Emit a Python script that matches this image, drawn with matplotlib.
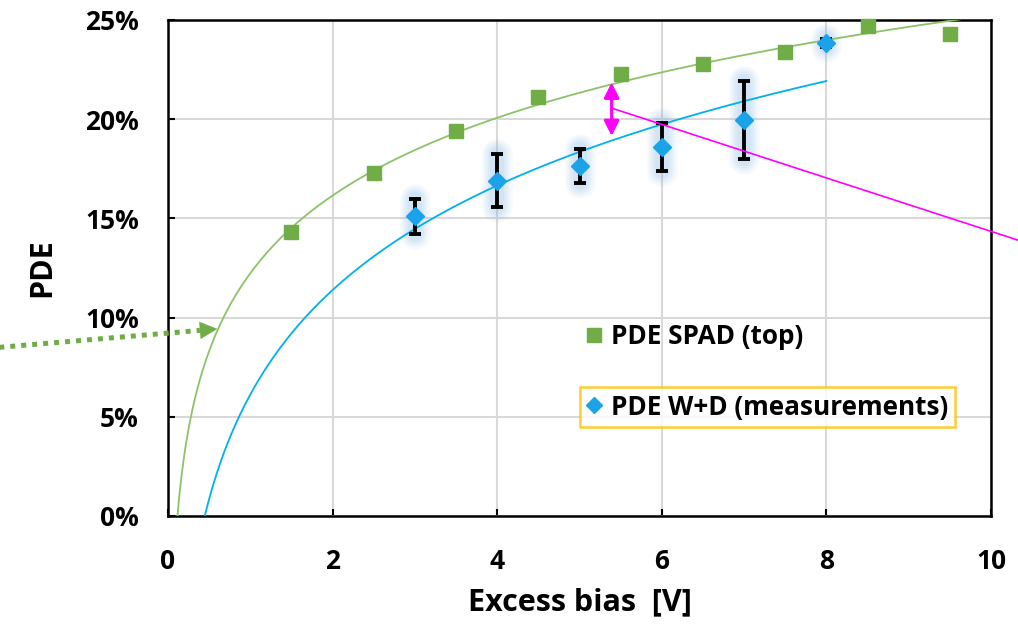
import numpy as np
import matplotlib
matplotlib.use("Agg")
import matplotlib.pyplot as plt
from matplotlib.lines import Line2D
from matplotlib.ticker import FuncFormatter

plt.rcParams['font.family'] = ['Open Sans', 'DejaVu Sans']
plt.rcParams['font.weight'] = 'bold'

# ---- data ----
spad_x = [1.5, 2.5, 3.5, 4.5, 5.5, 6.5, 7.5, 8.5, 9.5]
spad_y = [14.3, 17.3, 19.4, 21.1, 22.3, 22.8, 23.4, 24.7, 24.3]
wd_x = [3, 4, 5, 6, 7, 8]
wd_y = [15.1, 16.9, 17.65, 18.6, 19.95, 23.85]
wd_err = [0.9, 1.35, 0.85, 1.2, 1.97, 0.2]
x_ticks = [0, 2, 4, 6, 8, 10]
y_ticks = [0, 5, 10, 15, 20, 25]

GREEN = '#70AD47'
BLUE = '#1AA3E8'
BLUE_LINE = '#00B0F0'
MAGENTA = '#FF00FF'
GLOW = '#8FBCE6'

W, H = 1018, 627
fig = plt.figure(figsize=(W / 100, H / 100), dpi=100)
ax = fig.add_axes([168 / W, (H - 516) / H, 823 / W, 496 / H])

# logarithmic trendlines fitted to each series
a_g, b_g = np.polyfit(np.log(spad_x), spad_y, 1)
a_b, b_b = np.polyfit(np.log(wd_x), wd_y, 1)
x0_g = np.exp(-b_g / a_g)
x0_b = np.exp(-b_b / a_b)
xg = np.linspace(x0_g, 10, 400)
xb = np.linspace(x0_b, 8, 400)
ax.plot(xg, a_g * np.log(xg) + b_g, color='#8CC36A', lw=1.3, zorder=3)
ax.plot(xb, a_b * np.log(xb) + b_b, color=BLUE_LINE, lw=1.3, zorder=3)

# soft glow behind the measurements
for xi, yi, ei in zip(wd_x, wd_y, wd_err):
    for lw, al in ((22, 0.07), (19, 0.08), (16, 0.09), (13, 0.10), (10, 0.11)):
        ax.plot([xi, xi], [yi - ei, yi + ei], color=GLOW, lw=lw, alpha=al,
                solid_capstyle='round', zorder=2)

ax.errorbar(wd_x, wd_y, yerr=wd_err, fmt='none', ecolor='black', elinewidth=2.8,
            capsize=4.5, capthick=2.8, zorder=4)
ax.plot(wd_x, wd_y, linestyle='none', marker='D', markersize=9, color=BLUE,
        markeredgecolor=BLUE, zorder=5)

ax.plot(spad_x, spad_y, linestyle='none', marker='s', markersize=10.5, color=GREEN,
        zorder=6, clip_on=False)

# green dotted arrow coming from outside the axes
arr_start = np.array([-2.05, 8.5])
arr_tip = np.array([0.6, 9.43])
arr_base = arr_tip - 0.08 * (arr_tip - arr_start)
ax.plot([arr_start[0], arr_base[0]], [arr_start[1], arr_base[1]], color=GREEN, lw=3.6,
        linestyle=(0, (1, 1.2)), solid_capstyle='butt', dash_capstyle='butt',
        clip_on=False, zorder=7)
ax.annotate('', xy=tuple(arr_tip), xytext=tuple(arr_base),
            arrowprops=dict(arrowstyle='-|>,head_length=1.25,head_width=0.62', color=GREEN,
                            lw=0.1, shrinkA=0, shrinkB=0),
            annotation_clip=False, zorder=7)

# magenta markers
ax.annotate('', xy=(5.39, 21.85), xytext=(5.39, 19.15),
            arrowprops=dict(arrowstyle='<|-|>,head_length=0.9,head_width=0.45', color=MAGENTA,
                            lw=2.2, shrinkA=0, shrinkB=0), zorder=7)
ax.plot([5.39, 10.33], [20.56, 13.9], color=MAGENTA, lw=1.2, clip_on=False, zorder=7)

# axes styling
ax.set_xlim(0, 10)
ax.set_ylim(0, 25)
ax.set_xticks(x_ticks)
ax.set_yticks(y_ticks)
ax.yaxis.set_major_formatter(FuncFormatter(lambda v, p: f'{v:.0f}%'))
ax.grid(True, color='#D9D9D9', lw=1.5, zorder=0)
ax.set_axisbelow(True)
for s in ax.spines.values():
    s.set_color('black')
    s.set_linewidth(1.8)
ax.tick_params(axis='both', direction='in', length=5, width=1.5, labelsize=19)
ax.tick_params(axis='y', pad=21)
ax.tick_params(axis='x', pad=23)
ax.set_xlabel('Excess bias  [V]', fontsize=22, fontweight='bold', labelpad=9)
ax.set_ylabel('PDE', fontsize=22, fontweight='bold', labelpad=20)

# legend (second entry framed)
h1 = Line2D([], [], linestyle='none', marker='s', markersize=10, color=GREEN)
h2 = Line2D([], [], linestyle='none', marker='D', markersize=8.5, color=BLUE)
leg1 = ax.legend([h1], ['PDE SPAD (top)'], loc='center left',
                 bbox_to_anchor=(580 / W, (H - 337) / H), bbox_transform=fig.transFigure,
                 frameon=False, fontsize=18.8, handlelength=0.6, handletextpad=0.35,
                 borderpad=0.25, borderaxespad=0)
ax.add_artist(leg1)
leg2 = ax.legend([h2], ['PDE W+D (measurements)'], loc='center left',
                 bbox_to_anchor=(580 / W, (H - 407) / H), bbox_transform=fig.transFigure,
                 frameon=True, fancybox=False, edgecolor='#FFC000', fontsize=18.8,
                 handlelength=0.6, handletextpad=0.35, borderpad=0.25, borderaxespad=0)
leg2.get_frame().set_linewidth(1.8)
leg2.set_zorder(8)

fig.savefig('out.png', dpi=100)
